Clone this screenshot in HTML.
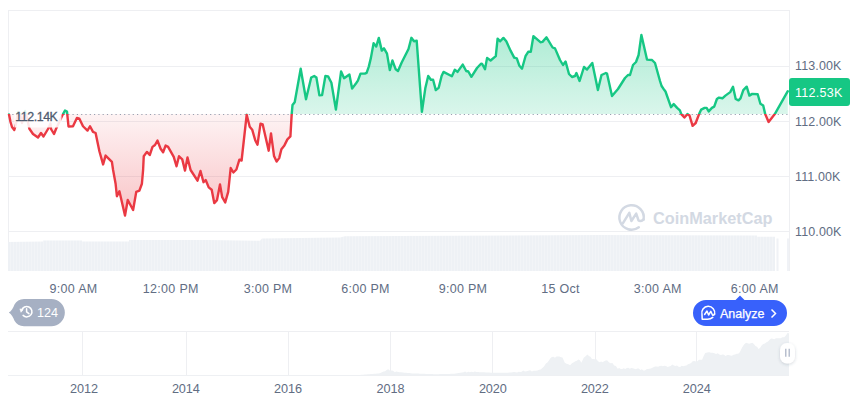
<!DOCTYPE html>
<html><head><meta charset="utf-8"><style>
html,body{margin:0;padding:0;background:#fff;width:860px;height:401px;overflow:hidden;}
svg{position:absolute;left:0;top:0;}
text{font-family:"Liberation Sans", sans-serif;}
</style></head><body>
<svg width="860" height="401" viewBox="0 0 860 401">
<defs>
<linearGradient id="gg" x1="0" y1="35" x2="0" y2="114" gradientUnits="userSpaceOnUse">
<stop offset="0" stop-color="#16c784" stop-opacity="0.34"/>
<stop offset="1" stop-color="#16c784" stop-opacity="0.16"/>
</linearGradient>
<linearGradient id="rg" x1="0" y1="114" x2="0" y2="216" gradientUnits="userSpaceOnUse">
<stop offset="0" stop-color="#ea3943" stop-opacity="0.06"/>
<stop offset="1" stop-color="#ea3943" stop-opacity="0.30"/>
</linearGradient>
<filter id="sh" x="-1" y="-1" width="3" height="3"><feDropShadow dx="0" dy="1" stdDeviation="1.8" flood-color="#3a4a66" flood-opacity="0.22"/></filter>
<pattern id="vb" x="8" y="0" width="3" height="10" patternUnits="userSpaceOnUse"><rect x="0" y="0" width="3" height="10" fill="#f4f5f8"/><rect x="0" y="0" width="2.2" height="10" fill="#eef1f5"/></pattern>
<clipPath id="above"><rect x="0" y="0" width="860" height="114"/></clipPath>
<clipPath id="below"><rect x="0" y="114" width="860" height="300"/></clipPath>
</defs>
<!-- chart frame -->
<g stroke="#eeeff2" stroke-width="1" fill="none" shape-rendering="crispEdges">
<path d="M8.5 271 V10.5 H789.5 V271"/>
<path d="M8 66.5 H789 M8 121.5 H789 M8 176.5 H789 M8 231.5 H789"/>
</g>
<!-- volume bars -->
<polygon points="8,242 43,241.5 43,240.5 82,240.5 82,241.5 129,241.5 129,240 208,240 260,240.8 262,238.5 340,237.5 345,236.2 400,236 600,235 757,235.5 757,236.8 775,236.8 775,271 8,271" fill="url(#vb)"/>
<rect x="776.5" y="238.5" width="2" height="32.5" fill="#f0f2f6"/>
<rect x="787" y="238.5" width="2" height="32.5" fill="#f0f2f6"/>
<!-- watermark -->
<g opacity="1">
<g fill="none" stroke="#d3d9e3" stroke-width="2.5" stroke-linecap="round" stroke-linejoin="round">
<path d="M643.6 219.5 A12.2 12.2 0 1 0 638.8 227.3"/>
<path d="M622.8 223.3 L629.3 212.8 L631.4 221 L636.2 213.6 L638.6 220.6 Q640.5 222 643.6 219.5"/>
</g>
<text x="653" y="224.3" font-size="16.3" font-weight="bold" fill="#d3d9e3">CoinMarketCap</text>
</g>
<!-- fills -->
<polygon points="9,114.5 10.5,122 12,127 14.3,130 16,124 18,112 20,114 22,123 25,111 27,118 29.4,128.75 33,134 38,137.5 41,133 43.5,136.5 48,129 50.5,123.5 51,129 54,134 56,129 62.5,115 65,110.5 67,111.5 68.5,126.5 73,126.25 76.9,118 79.4,118.75 83,126.25 87.5,130.6 90,126.25 93,131.9 95.6,133 99.4,151.25 103.1,164.4 105.6,155.6 111.9,161.9 113.1,170 115.6,183.75 116.9,196.25 119.4,191.25 125,215.6 127.75,200 133.1,210 136.25,191.9 139.4,190.6 141.9,183.75 143.1,170 143.75,156.25 146.9,151.9 149.75,155 152.5,146.9 155,145 157.5,140.6 160.6,148.75 163.1,152.25 165.6,145.6 168.1,146.9 173.75,156.9 176.5,166.25 179,156.25 182.25,159.4 185,170.6 187.5,157.5 190.6,170 197.5,180.7 200.5,171 203.5,182.2 205.7,180 208.7,187.4 211.7,189.7 214.25,203.1 217,200.1 220,184.4 222.2,197.2 225.2,202.4 228.2,191.9 230.7,168 233.4,172.5 236.4,169.5 239.4,159.7 241.6,160.5 246.7,114.7 249.7,126.7 252.2,129.7 255.2,140.2 257.5,144.7 260.5,123.7 262.7,124.5 268.7,150.7 271,133.4 274,155.9 276.6,161.6 279.2,158.1 281.4,149.2 284.4,145.4 287.4,139.4 290.4,136.4 291.7,114.1 292.5,105.1 294.7,102.2 300.7,68.8 306,99.2 311.2,77.5 314.2,76 316.4,77.5 319.4,95.4 322.1,95.1 325.4,76 328.1,76.4 331.4,82.7 335.9,109.6 341.1,71.5 344.1,78.2 349.4,74.5 352.1,88.6 356.1,83.2 357.9,80.6 360.5,73.6 364.8,73.6 366.6,72.8 368.8,66.6 370.9,57.9 373.6,43.1 376.2,46.6 378.8,37.9 381.8,50.6 384,48.3 387,53.6 389.8,70.1 392.4,60.5 395.7,69.3 398,71 401.7,62.5 408.5,49 411.4,37.8 414,41.2 416.7,40.8 421.9,111.8 425.3,88.3 428.2,76 430.9,79.8 433.1,79.8 435.8,90.1 438.7,87.8 441.6,76 443.5,71.9 451.9,76.2 454.8,69.8 457.5,71.9 462.7,64.6 466.2,71 468.3,71.5 471.4,76.8 477,68 481,63.7 482.2,64 485,69.3 487.1,57.9 490.6,60.5 495.8,56.2 497.6,38.7 500.2,41.3 503.4,37.9 506.3,41.3 510.7,50.9 514.2,57.6 516.8,58.3 519.4,65.8 522,68.7 525.5,56.2 528.2,51.8 530.8,51.8 533.4,36.1 540.4,42.2 542.5,41.9 546.5,37.3 552.6,47.5 555,48.4 560,60 563,65 565.6,61.6 569,74 572,77 575,76 576.4,73 579.6,81 584,67 587,69.6 592.3,63 597.9,90 601.5,75 605.9,73 607,73.5 612,96 618,89 625,78 628,75 630,75 633,65 636,62 638.6,55 641.4,35 647,59.6 652,60 655,63 660,81 661.6,86 663.4,88.7 665.5,91.5 671,107.2 673.7,104.1 677.1,107.9 679.9,110.4 681.3,114.1 684.4,117.5 687.4,114.1 689.5,115.5 692.6,125.8 695.7,123 699.1,114.1 701.2,109.6 704.6,107.9 706.6,107.9 708.7,111.4 711.9,107.9 714.2,106.6 716.9,99 719,97.6 722.4,98.3 725.4,95.6 730.2,92.1 733,86.7 735.7,99 738.5,100.4 740.5,98.3 743.3,90.1 746.7,86.7 749.4,95.6 752.2,93.9 757.7,94.2 760.4,103.8 763.2,105.5 765.2,114.1 768.6,121.9 774.8,114.1 787.8,91.2 787.8,114 9,114" fill="url(#gg)" clip-path="url(#above)"/>
<polygon points="9,114.5 10.5,122 12,127 14.3,130 16,124 18,112 20,114 22,123 25,111 27,118 29.4,128.75 33,134 38,137.5 41,133 43.5,136.5 48,129 50.5,123.5 51,129 54,134 56,129 62.5,115 65,110.5 67,111.5 68.5,126.5 73,126.25 76.9,118 79.4,118.75 83,126.25 87.5,130.6 90,126.25 93,131.9 95.6,133 99.4,151.25 103.1,164.4 105.6,155.6 111.9,161.9 113.1,170 115.6,183.75 116.9,196.25 119.4,191.25 125,215.6 127.75,200 133.1,210 136.25,191.9 139.4,190.6 141.9,183.75 143.1,170 143.75,156.25 146.9,151.9 149.75,155 152.5,146.9 155,145 157.5,140.6 160.6,148.75 163.1,152.25 165.6,145.6 168.1,146.9 173.75,156.9 176.5,166.25 179,156.25 182.25,159.4 185,170.6 187.5,157.5 190.6,170 197.5,180.7 200.5,171 203.5,182.2 205.7,180 208.7,187.4 211.7,189.7 214.25,203.1 217,200.1 220,184.4 222.2,197.2 225.2,202.4 228.2,191.9 230.7,168 233.4,172.5 236.4,169.5 239.4,159.7 241.6,160.5 246.7,114.7 249.7,126.7 252.2,129.7 255.2,140.2 257.5,144.7 260.5,123.7 262.7,124.5 268.7,150.7 271,133.4 274,155.9 276.6,161.6 279.2,158.1 281.4,149.2 284.4,145.4 287.4,139.4 290.4,136.4 291.7,114.1 292.5,105.1 294.7,102.2 300.7,68.8 306,99.2 311.2,77.5 314.2,76 316.4,77.5 319.4,95.4 322.1,95.1 325.4,76 328.1,76.4 331.4,82.7 335.9,109.6 341.1,71.5 344.1,78.2 349.4,74.5 352.1,88.6 356.1,83.2 357.9,80.6 360.5,73.6 364.8,73.6 366.6,72.8 368.8,66.6 370.9,57.9 373.6,43.1 376.2,46.6 378.8,37.9 381.8,50.6 384,48.3 387,53.6 389.8,70.1 392.4,60.5 395.7,69.3 398,71 401.7,62.5 408.5,49 411.4,37.8 414,41.2 416.7,40.8 421.9,111.8 425.3,88.3 428.2,76 430.9,79.8 433.1,79.8 435.8,90.1 438.7,87.8 441.6,76 443.5,71.9 451.9,76.2 454.8,69.8 457.5,71.9 462.7,64.6 466.2,71 468.3,71.5 471.4,76.8 477,68 481,63.7 482.2,64 485,69.3 487.1,57.9 490.6,60.5 495.8,56.2 497.6,38.7 500.2,41.3 503.4,37.9 506.3,41.3 510.7,50.9 514.2,57.6 516.8,58.3 519.4,65.8 522,68.7 525.5,56.2 528.2,51.8 530.8,51.8 533.4,36.1 540.4,42.2 542.5,41.9 546.5,37.3 552.6,47.5 555,48.4 560,60 563,65 565.6,61.6 569,74 572,77 575,76 576.4,73 579.6,81 584,67 587,69.6 592.3,63 597.9,90 601.5,75 605.9,73 607,73.5 612,96 618,89 625,78 628,75 630,75 633,65 636,62 638.6,55 641.4,35 647,59.6 652,60 655,63 660,81 661.6,86 663.4,88.7 665.5,91.5 671,107.2 673.7,104.1 677.1,107.9 679.9,110.4 681.3,114.1 684.4,117.5 687.4,114.1 689.5,115.5 692.6,125.8 695.7,123 699.1,114.1 701.2,109.6 704.6,107.9 706.6,107.9 708.7,111.4 711.9,107.9 714.2,106.6 716.9,99 719,97.6 722.4,98.3 725.4,95.6 730.2,92.1 733,86.7 735.7,99 738.5,100.4 740.5,98.3 743.3,90.1 746.7,86.7 749.4,95.6 752.2,93.9 757.7,94.2 760.4,103.8 763.2,105.5 765.2,114.1 768.6,121.9 774.8,114.1 787.8,91.2 787.8,114 9,114" fill="url(#rg)" clip-path="url(#below)"/>
<!-- baseline dots -->
<line x1="8" y1="114.5" x2="789" y2="114.5" stroke="#98a0b0" stroke-width="1" stroke-dasharray="1.2 3.1"/>
<!-- line -->
<polyline points="9,114.5 10.5,122 12,127 14.3,130 16,124 18,112 20,114 22,123 25,111 27,118 29.4,128.75 33,134 38,137.5 41,133 43.5,136.5 48,129 50.5,123.5 51,129 54,134 56,129 62.5,115 65,110.5 67,111.5 68.5,126.5 73,126.25 76.9,118 79.4,118.75 83,126.25 87.5,130.6 90,126.25 93,131.9 95.6,133 99.4,151.25 103.1,164.4 105.6,155.6 111.9,161.9 113.1,170 115.6,183.75 116.9,196.25 119.4,191.25 125,215.6 127.75,200 133.1,210 136.25,191.9 139.4,190.6 141.9,183.75 143.1,170 143.75,156.25 146.9,151.9 149.75,155 152.5,146.9 155,145 157.5,140.6 160.6,148.75 163.1,152.25 165.6,145.6 168.1,146.9 173.75,156.9 176.5,166.25 179,156.25 182.25,159.4 185,170.6 187.5,157.5 190.6,170 197.5,180.7 200.5,171 203.5,182.2 205.7,180 208.7,187.4 211.7,189.7 214.25,203.1 217,200.1 220,184.4 222.2,197.2 225.2,202.4 228.2,191.9 230.7,168 233.4,172.5 236.4,169.5 239.4,159.7 241.6,160.5 246.7,114.7 249.7,126.7 252.2,129.7 255.2,140.2 257.5,144.7 260.5,123.7 262.7,124.5 268.7,150.7 271,133.4 274,155.9 276.6,161.6 279.2,158.1 281.4,149.2 284.4,145.4 287.4,139.4 290.4,136.4 291.7,114.1 292.5,105.1 294.7,102.2 300.7,68.8 306,99.2 311.2,77.5 314.2,76 316.4,77.5 319.4,95.4 322.1,95.1 325.4,76 328.1,76.4 331.4,82.7 335.9,109.6 341.1,71.5 344.1,78.2 349.4,74.5 352.1,88.6 356.1,83.2 357.9,80.6 360.5,73.6 364.8,73.6 366.6,72.8 368.8,66.6 370.9,57.9 373.6,43.1 376.2,46.6 378.8,37.9 381.8,50.6 384,48.3 387,53.6 389.8,70.1 392.4,60.5 395.7,69.3 398,71 401.7,62.5 408.5,49 411.4,37.8 414,41.2 416.7,40.8 421.9,111.8 425.3,88.3 428.2,76 430.9,79.8 433.1,79.8 435.8,90.1 438.7,87.8 441.6,76 443.5,71.9 451.9,76.2 454.8,69.8 457.5,71.9 462.7,64.6 466.2,71 468.3,71.5 471.4,76.8 477,68 481,63.7 482.2,64 485,69.3 487.1,57.9 490.6,60.5 495.8,56.2 497.6,38.7 500.2,41.3 503.4,37.9 506.3,41.3 510.7,50.9 514.2,57.6 516.8,58.3 519.4,65.8 522,68.7 525.5,56.2 528.2,51.8 530.8,51.8 533.4,36.1 540.4,42.2 542.5,41.9 546.5,37.3 552.6,47.5 555,48.4 560,60 563,65 565.6,61.6 569,74 572,77 575,76 576.4,73 579.6,81 584,67 587,69.6 592.3,63 597.9,90 601.5,75 605.9,73 607,73.5 612,96 618,89 625,78 628,75 630,75 633,65 636,62 638.6,55 641.4,35 647,59.6 652,60 655,63 660,81 661.6,86 663.4,88.7 665.5,91.5 671,107.2 673.7,104.1 677.1,107.9 679.9,110.4 681.3,114.1 684.4,117.5 687.4,114.1 689.5,115.5 692.6,125.8 695.7,123 699.1,114.1 701.2,109.6 704.6,107.9 706.6,107.9 708.7,111.4 711.9,107.9 714.2,106.6 716.9,99 719,97.6 722.4,98.3 725.4,95.6 730.2,92.1 733,86.7 735.7,99 738.5,100.4 740.5,98.3 743.3,90.1 746.7,86.7 749.4,95.6 752.2,93.9 757.7,94.2 760.4,103.8 763.2,105.5 765.2,114.1 768.6,121.9 774.8,114.1 787.8,91.2" fill="none" stroke="#16c784" stroke-width="2.4" stroke-linejoin="round" stroke-linecap="round" clip-path="url(#above)"/>
<polyline points="9,114.5 10.5,122 12,127 14.3,130 16,124 18,112 20,114 22,123 25,111 27,118 29.4,128.75 33,134 38,137.5 41,133 43.5,136.5 48,129 50.5,123.5 51,129 54,134 56,129 62.5,115 65,110.5 67,111.5 68.5,126.5 73,126.25 76.9,118 79.4,118.75 83,126.25 87.5,130.6 90,126.25 93,131.9 95.6,133 99.4,151.25 103.1,164.4 105.6,155.6 111.9,161.9 113.1,170 115.6,183.75 116.9,196.25 119.4,191.25 125,215.6 127.75,200 133.1,210 136.25,191.9 139.4,190.6 141.9,183.75 143.1,170 143.75,156.25 146.9,151.9 149.75,155 152.5,146.9 155,145 157.5,140.6 160.6,148.75 163.1,152.25 165.6,145.6 168.1,146.9 173.75,156.9 176.5,166.25 179,156.25 182.25,159.4 185,170.6 187.5,157.5 190.6,170 197.5,180.7 200.5,171 203.5,182.2 205.7,180 208.7,187.4 211.7,189.7 214.25,203.1 217,200.1 220,184.4 222.2,197.2 225.2,202.4 228.2,191.9 230.7,168 233.4,172.5 236.4,169.5 239.4,159.7 241.6,160.5 246.7,114.7 249.7,126.7 252.2,129.7 255.2,140.2 257.5,144.7 260.5,123.7 262.7,124.5 268.7,150.7 271,133.4 274,155.9 276.6,161.6 279.2,158.1 281.4,149.2 284.4,145.4 287.4,139.4 290.4,136.4 291.7,114.1 292.5,105.1 294.7,102.2 300.7,68.8 306,99.2 311.2,77.5 314.2,76 316.4,77.5 319.4,95.4 322.1,95.1 325.4,76 328.1,76.4 331.4,82.7 335.9,109.6 341.1,71.5 344.1,78.2 349.4,74.5 352.1,88.6 356.1,83.2 357.9,80.6 360.5,73.6 364.8,73.6 366.6,72.8 368.8,66.6 370.9,57.9 373.6,43.1 376.2,46.6 378.8,37.9 381.8,50.6 384,48.3 387,53.6 389.8,70.1 392.4,60.5 395.7,69.3 398,71 401.7,62.5 408.5,49 411.4,37.8 414,41.2 416.7,40.8 421.9,111.8 425.3,88.3 428.2,76 430.9,79.8 433.1,79.8 435.8,90.1 438.7,87.8 441.6,76 443.5,71.9 451.9,76.2 454.8,69.8 457.5,71.9 462.7,64.6 466.2,71 468.3,71.5 471.4,76.8 477,68 481,63.7 482.2,64 485,69.3 487.1,57.9 490.6,60.5 495.8,56.2 497.6,38.7 500.2,41.3 503.4,37.9 506.3,41.3 510.7,50.9 514.2,57.6 516.8,58.3 519.4,65.8 522,68.7 525.5,56.2 528.2,51.8 530.8,51.8 533.4,36.1 540.4,42.2 542.5,41.9 546.5,37.3 552.6,47.5 555,48.4 560,60 563,65 565.6,61.6 569,74 572,77 575,76 576.4,73 579.6,81 584,67 587,69.6 592.3,63 597.9,90 601.5,75 605.9,73 607,73.5 612,96 618,89 625,78 628,75 630,75 633,65 636,62 638.6,55 641.4,35 647,59.6 652,60 655,63 660,81 661.6,86 663.4,88.7 665.5,91.5 671,107.2 673.7,104.1 677.1,107.9 679.9,110.4 681.3,114.1 684.4,117.5 687.4,114.1 689.5,115.5 692.6,125.8 695.7,123 699.1,114.1 701.2,109.6 704.6,107.9 706.6,107.9 708.7,111.4 711.9,107.9 714.2,106.6 716.9,99 719,97.6 722.4,98.3 725.4,95.6 730.2,92.1 733,86.7 735.7,99 738.5,100.4 740.5,98.3 743.3,90.1 746.7,86.7 749.4,95.6 752.2,93.9 757.7,94.2 760.4,103.8 763.2,105.5 765.2,114.1 768.6,121.9 774.8,114.1 787.8,91.2" fill="none" stroke="#ea3943" stroke-width="2.4" stroke-linejoin="round" stroke-linecap="round" clip-path="url(#below)"/>
<!-- open price label -->
<rect x="14.5" y="106" width="47" height="21.5" fill="#ffffff" fill-opacity="0.88"/>
<text x="15.3" y="120.8" font-size="12.4" letter-spacing="-0.45" fill="#4e5a6e" stroke="#4e5a6e" stroke-width="0.3">112.14K</text>
<!-- y axis -->
<g font-size="12.5" fill="#616d83" letter-spacing="0.12">
<text x="795" y="70">113.00K</text>
<text x="795" y="125.6">112.00K</text>
<text x="795" y="180.9">111.00K</text>
<text x="795" y="235.8">110.00K</text>
</g>
<rect x="789" y="78" width="61" height="28" rx="3" fill="#16c784"/>
<text x="795" y="97" font-size="12.5" letter-spacing="0.3" fill="#ffffff">112.53K</text>
<!-- x axis -->
<g font-size="12.5" fill="#616d83" text-anchor="middle" letter-spacing="0.3">
<text x="73.5" y="292.8">9:00 AM</text>
<text x="170.8" y="292.8">12:00 PM</text>
<text x="268" y="292.8">3:00 PM</text>
<text x="365.5" y="292.8">6:00 PM</text>
<text x="463" y="292.8">9:00 PM</text>
<text x="560.5" y="292.8">15 Oct</text>
<text x="657.8" y="292.8">3:00 AM</text>
<text x="754.8" y="292.8">6:00 AM</text>
</g>
<!-- navigator -->
<g stroke="#eeeff2" stroke-width="1" fill="none" shape-rendering="crispEdges">
<path d="M8 331.5 H789 M8 375.5 H789"/>
<path d="M82.5 332 V375 M186 332 V375 M288.5 332 V375 M390.5 332 V375 M492.5 332 V375 M595 332 V375 M696.5 332 V375"/>
</g>
<polygon points="8,375 9.5,375 11.01,375 12.51,375 14.02,375 15.52,375 17.03,375 18.53,375 20.03,375 21.54,375 23.04,375 24.55,375 26.05,374.99 27.56,374.99 29.06,374.99 30.56,374.99 32.07,374.99 33.57,374.99 35.08,374.99 36.58,374.99 38.09,374.99 39.59,374.99 41.09,374.99 42.6,374.99 44.1,374.99 45.61,374.99 47.11,374.99 48.62,374.99 50.12,374.99 51.62,374.99 53.13,374.99 54.63,374.99 56.14,374.99 57.64,374.99 59.15,374.99 60.65,374.99 62.15,374.98 63.66,374.98 65.16,374.98 66.67,374.98 68.17,374.98 69.68,374.98 71.18,374.98 72.68,374.98 74.19,374.98 75.69,374.98 77.2,374.98 78.7,374.98 80.21,374.98 81.71,374.98 83.21,374.98 84.72,374.98 86.22,374.98 87.73,374.98 89.23,374.98 90.74,374.98 92.24,374.98 93.74,374.98 95.25,374.98 96.75,374.97 98.26,374.97 99.76,374.97 101.26,374.97 102.77,374.97 104.27,374.97 105.78,374.97 107.28,374.97 108.79,374.97 110.29,374.97 111.79,374.97 113.3,374.97 114.8,374.97 116.31,374.97 117.81,374.97 119.32,374.97 120.82,374.97 122.32,374.97 123.83,374.97 125.33,374.97 126.84,374.97 128.34,374.97 129.85,374.97 131.35,374.96 132.85,374.96 134.36,374.96 135.86,374.96 137.37,374.96 138.87,374.96 140.38,374.96 141.88,374.96 143.38,374.96 144.89,374.96 146.39,374.96 147.9,374.96 149.4,374.96 150.91,374.96 152.41,374.96 153.91,374.96 155.42,374.96 156.92,374.96 158.43,374.96 159.93,374.96 161.44,374.96 162.94,374.96 164.44,374.96 165.95,374.96 167.45,374.95 168.96,374.95 170.46,374.95 171.97,374.95 173.47,374.95 174.97,374.95 176.48,374.95 177.98,374.95 179.49,374.95 180.99,374.95 182.5,374.95 184,374.95 185.5,374.95 187.01,374.95 188.51,374.95 190.02,374.95 191.52,374.95 193.03,374.95 194.53,374.95 196.03,374.95 197.54,374.95 199.04,374.95 200.55,374.95 202.05,374.94 203.56,374.94 205.06,374.94 206.56,374.94 208.07,374.94 209.57,374.94 211.08,374.94 212.58,374.94 214.09,374.94 215.59,374.94 217.09,374.94 218.6,374.94 220.1,374.94 221.61,374.94 223.11,374.94 224.62,374.94 226.12,374.94 227.62,374.94 229.13,374.94 230.63,374.94 232.14,374.94 233.64,374.94 235.15,374.94 236.65,374.94 238.15,374.93 239.66,374.93 241.16,374.93 242.67,374.93 244.17,374.93 245.68,374.93 247.18,374.93 248.68,374.93 250.19,374.93 251.69,374.93 253.2,374.93 254.7,374.93 256.21,374.93 257.71,374.93 259.21,374.93 260.72,374.93 262.22,374.93 263.73,374.93 265.23,374.93 266.74,374.93 268.24,374.93 269.74,374.93 271.25,374.93 272.75,374.92 274.26,374.92 275.76,374.92 277.26,374.92 278.77,374.92 280.27,374.92 281.78,374.92 283.28,374.92 284.79,374.92 286.29,374.92 287.79,374.92 289.3,374.92 290.8,374.92 292.31,374.92 293.81,374.92 295.32,374.92 296.82,374.92 298.32,374.92 299.83,374.92 301.33,374.92 302.84,374.92 304.34,374.92 305.85,374.92 307.35,374.91 308.85,374.91 310.36,374.91 311.86,374.91 313.37,374.91 314.87,374.91 316.38,374.91 317.88,374.91 319.38,374.91 320.89,374.91 322.39,374.91 323.9,374.91 325.4,374.91 326.91,374.91 328.41,374.91 329.91,374.91 331.42,374.91 332.92,374.91 334.43,374.91 335.93,374.91 337.44,374.91 338.94,374.91 340.44,374.91 341.95,374.91 343.45,374.9 344.96,374.9 346.46,374.9 347.97,374.9 349.47,374.9 350.97,374.9 352.48,374.9 353.98,374.9 355.49,374.9 356.99,374.9 358.5,374.9 360,374.9 361.57,374.77 363.13,374.65 364.7,374.52 366.27,374.4 367.83,374.27 369.4,374.15 370.97,374.02 372.53,373.9 374.1,373.77 375.67,373.65 377.23,373.52 378.8,373.4 380.38,372.88 381.95,372.35 383.53,371.41 385.1,371.37 386.65,370.04 388.2,369.37 389.8,370.45 391.4,370.6 393.06,370.7 394.72,372.2 396.38,371.45 398.04,372.02 399.7,372.2 401.27,372.35 402.85,372.5 404.43,372.65 406,372.8 407.57,372.95 409.15,373.1 410.73,373.25 412.3,373.4 413.83,373.45 415.37,373.51 416.9,373.56 418.43,373.61 419.97,373.67 421.5,373.72 423.03,373.77 424.57,373.83 426.1,373.88 427.63,373.93 429.17,373.99 430.7,374.04 432.23,374.09 433.77,374.15 435.3,374.2 436.87,374.17 438.43,374.13 440,374.1 441.57,374.07 443.13,374.03 444.7,374 446.27,373.97 447.83,373.93 449.4,373.9 450.97,373.87 452.53,373.83 454.1,373.8 455.68,373.54 457.25,373.27 458.82,373.01 460.4,372.75 461.98,372.49 463.55,372.23 465.12,371.54 466.7,372.49 468.32,371.71 469.94,372.35 471.57,371.83 473.19,372.14 474.81,371.42 476.43,372.03 478.06,372.09 479.68,372.14 481.3,372.2 482.88,372.27 484.45,372.35 486.02,372.43 487.6,372.5 489.18,372.57 490.75,372.65 492.32,372.73 493.9,372.8 495.46,372.8 497.02,372.8 498.59,372.8 500.15,372.8 501.71,372.8 503.27,372.8 504.84,372.8 506.4,372.8 507.93,372.66 509.45,372.53 510.98,372.39 512.51,372.25 514.04,372.12 515.56,372.2 517.09,372.43 518.62,371.75 520.15,371.96 521.67,371.71 523.2,370.6 524.93,371.61 526.67,371.25 528.4,370.68 530.13,370.15 531.87,371.38 533.6,370.66 536,370.85 537.52,370.56 539.05,369.74 540.58,369.52 542.1,368.13 544,366.48 545.9,363.61 547.4,362.55 548.9,360.61 550.4,358.21 551.9,357.12 553.42,356.87 554.95,357.69 556.48,356.47 558,356.4 559.5,356.38 561,357.21 562.5,357.52 564.8,362.76 566.57,363.64 568.33,364.13 570.1,365.15 571.95,363.29 573.8,362.19 575.33,361.3 576.87,360.75 578.4,359.47 579.9,360.16 581.4,362.78 583.7,357.74 585.55,356.35 587.4,354.51 588.93,356.11 590.47,356.67 592,359.03 593.5,359.12 595,359.16 596.5,359.3 598.03,361.3 599.57,362.25 601.1,361.54 602.6,362.31 604.1,361.31 605.6,360.52 607.1,360.37 608.87,362.13 610.63,363.3 612.4,362.97 614.17,365.42 615.93,366.04 617.7,368.65 619.22,368.03 620.73,368.91 622.25,369.07 623.77,368.31 625.28,369.1 626.8,368 628.3,367.74 629.8,368.69 631.3,367.9 632.8,368.28 634.3,368.74 635.8,369.18 637.32,368.58 638.83,368.53 640.35,369.99 641.87,369.24 643.38,370.4 644.9,370.43 646.4,369.23 647.9,368.99 649.4,368.71 650.9,368.53 652.95,367.55 655,366.59 656.58,366.52 658.15,366.85 659.72,365.99 661.3,365.69 662.86,366.29 664.42,365.66 665.98,365.9 667.54,367.12 669.1,366.53 670.7,365.98 672.3,364.52 673.86,365.48 675.42,366.07 676.98,365.49 678.54,366.77 680.1,367.11 681.67,365.8 683.25,366.3 684.83,365.65 686.4,365.59 687.97,364.16 689.53,363.83 691.1,362.98 692.67,361.34 694.25,360.9 695.83,361.38 697.4,361.34 698.97,359.84 700.53,359.8 702.1,359.65 703.65,356.06 705.2,352.98 707.2,352.5 709.2,352.19 710.92,352.87 712.64,352.72 714.36,353.16 716.08,354.12 717.8,353.24 719.36,354.41 720.92,354.98 722.48,354.6 724.04,354.76 725.6,355.99 727.18,355.08 728.76,355 730.34,355.4 731.92,355.82 733.5,354.86 735.08,354.44 736.65,353.68 738.22,353.71 739.8,352.3 742.1,347.47 744.05,344.42 746,342.74 747.58,343.32 749.15,343.77 750.72,343.15 752.3,342.86 753.88,343.99 755.45,345.95 757.02,346.71 758.6,348.99 760.17,347.67 761.75,345.24 763.33,344.02 764.9,343.49 766.48,342.25 768.05,341.54 769.62,339.83 771.2,338.51 772.77,338.63 774.33,339.3 775.9,338.33 777.47,338.32 779.03,338.3 780.6,338.17 782.43,337.36 784.27,337.37 786.1,335.35 787.7,332.81 789,333.5 789,375.5 8,375.5" fill="#eef1f4"/>
<g font-size="12.7" fill="#616d83" text-anchor="middle" letter-spacing="-0.1">
<text x="84" y="393.3">2012</text>
<text x="185.8" y="393.3">2014</text>
<text x="288" y="393.3">2016</text>
<text x="390.5" y="393.3">2018</text>
<text x="492.8" y="393.3">2020</text>
<text x="594.8" y="393.3">2022</text>
<text x="696.7" y="393.3">2024</text>
</g>
<!-- handle -->
<rect x="780" y="343" width="15" height="20.5" rx="7" fill="#fff" filter="url(#sh)"/>
<path d="M785.8 348.7 V356.8 M789.2 348.7 V356.8" stroke="#aab3c5" stroke-width="1.25"/>
<!-- history pill -->
<path d="M24 299 H51.25 A13.6 13.6 0 0 1 51.25 326.2 H24 C19.5 326.2 16.5 324 14.5 320.8 C13.2 317.6 11.5 314 8.8 312.6 C11.5 311.2 13.2 307.6 14.5 304.4 C16.5 301.2 19.5 299 24 299 Z" fill="#a6b0c3"/>
<g fill="none" stroke="#fff" stroke-width="1.5" stroke-linecap="round" stroke-linejoin="round">
<path d="M21.7 310.4 A5.2 5.2 0 1 1 23.1 315.4"/>
<path d="M26.6 308.7 V311.9 L28.9 313.7"/>
</g>
<path d="M19.9 308.9 L23.2 309.6 L21 312.3 Z" fill="#fff" stroke="#fff" stroke-width="0.6" stroke-linejoin="round"/>
<text x="36.9" y="316.8" font-size="12.6" fill="#ffffff">124</text>
<!-- analyze button -->
<path d="M706 300 H735.5 L740 295.5 L744.5 300 H774 A13 13 0 0 1 774 326 H706 A13 13 0 0 1 706 300 Z" fill="#3861fb"/>
<g fill="none" stroke="#fff" stroke-width="1.5" stroke-linecap="round" stroke-linejoin="round">
<path d="M714.6 314.2 A6.5 6.5 0 1 0 702 314.6 L702.2 319.2 L706 319.2 Q710 319.8 712.8 317.4"/>
<path d="M704.6 314.5 L707 311 L708.6 315 L710.8 311.3 L712.5 315 Q713.6 315.6 714.6 314"/>
</g>
<text x="720" y="317.5" font-size="12.5" fill="#ffffff" stroke="#ffffff" stroke-width="0.25">Analyze</text>
<path d="M771.5 309.5 L775.5 313.5 L771.5 317.5" fill="none" stroke="#fff" stroke-width="1.5"/>
</svg>
</body></html>
